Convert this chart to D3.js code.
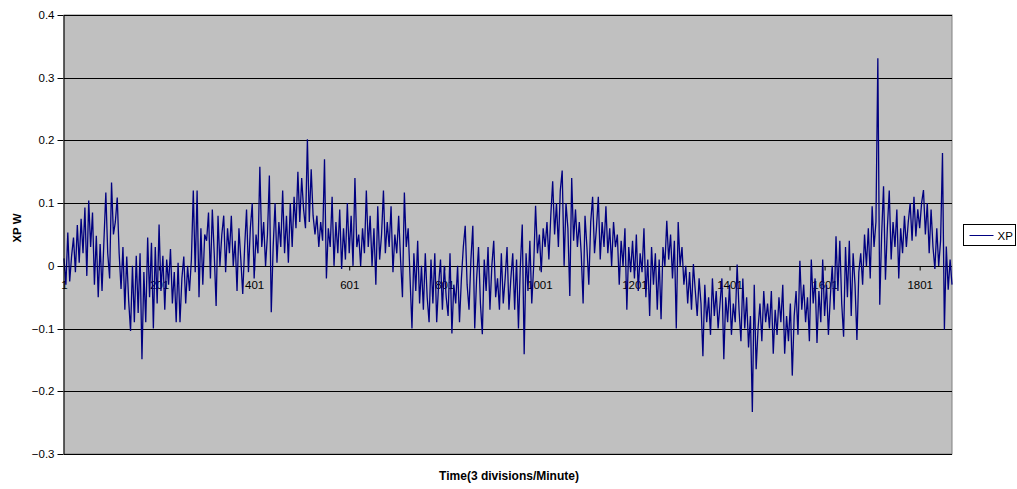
<!DOCTYPE html>
<html>
<head>
<meta charset="utf-8">
<script src="https://cdn.jsdelivr.net/npm/d3@7"></script>
<style>
  html, body { margin: 0; padding: 0; background: #ffffff; }
  svg { display: block; font-family: "Liberation Sans", Arial, sans-serif; }
</style>
</head>
<body>
<svg id="chart" width="1017" height="489"></svg>
<script>
// ---- data (one sample every 4 time divisions) ----
const seriesName = "XP";
const firstIndex = 1;
const sampleStep = 4;
const xpValues = [
  0.012, -0.03, 0.053, -0.025, 0.016, 0.045, -0.01, 0.065, 0.005, 0.075,
  0.02, 0.093, -0.016, 0.104, 0.03, 0.085, -0.03, 0.048, -0.05, 0.035,
  -0.04, 0.04, 0.117, 0.02, -0.02, 0.133, 0.05, 0.07, 0.109, 0.02,
  -0.037, 0.03, -0.07, 0.015, -0.055, -0.104, 0.0, -0.09, 0.016, -0.075,
  0.02, -0.149, -0.01, -0.09, 0.045, -0.05, 0.037, -0.1, 0.03, -0.06,
  0.066, -0.04, 0.016, -0.07, 0.01, -0.03, 0.027, -0.06, -0.01, -0.09,
  0.005, -0.09, -0.02, 0.015, -0.06, 0.0, -0.04, 0.01, 0.12, -0.01,
  0.12, -0.05, 0.06, -0.03, 0.05, 0.04, 0.085, -0.02, 0.09, 0.02,
  -0.064, 0.08, 0.0, 0.05, 0.08, -0.01, 0.06, 0.02, 0.08, 0.0,
  0.04, -0.04, 0.06, 0.01, -0.045, 0.03, 0.09, -0.01, 0.06, 0.1,
  -0.02, 0.05, 0.02, 0.158, 0.03, 0.07, 0.0, 0.05, 0.144, -0.074,
  0.03, 0.1, 0.005, 0.07, 0.03, 0.12, 0.02, 0.08, 0.005, 0.1,
  0.03, 0.11, 0.06, 0.15, 0.07, 0.14, 0.09, 0.06, 0.202, 0.07,
  0.154, 0.08, 0.05, 0.08, 0.03, 0.07, 0.04, 0.17, -0.02, 0.06,
  0.03, 0.11, 0.0, 0.07, 0.02, 0.09, -0.005, 0.06, 0.01, 0.1,
  0.02, 0.08, 0.0, 0.14, 0.03, 0.05, 0.0, 0.06, 0.02, 0.12,
  0.03, 0.08, 0.0, 0.06, -0.03, 0.095, 0.01, 0.05, 0.12, 0.02,
  0.07, 0.03, 0.095, -0.01, 0.05, 0.02, 0.08, 0.01, -0.05, 0.117,
  0.03, 0.06, -0.02, -0.1, 0.02, -0.04, 0.04, -0.06, 0.0, -0.07,
  0.02, -0.05, -0.09, 0.01, -0.06, 0.02, -0.09, -0.03, 0.01, -0.07,
  0.0, -0.05, -0.08, 0.02, -0.108, -0.03, -0.06, 0.0, -0.09, -0.02,
  0.03, 0.064, -0.03, -0.07, 0.01, 0.064, -0.1, -0.02, 0.03, -0.06,
  -0.109, 0.01, -0.04, 0.03, -0.07, 0.0, 0.04, -0.05, -0.02, -0.07,
  0.02, -0.06, -0.02, 0.03, -0.07, -0.02, 0.02, -0.07, 0.01, -0.1,
  0.0, 0.066, -0.141, 0.02, -0.04, 0.04, -0.06, 0.0, 0.096, 0.02,
  0.05, -0.01, 0.06, 0.03, 0.07, 0.01, 0.08, 0.135, 0.05, 0.1,
  0.03, 0.12, 0.152, 0.0, 0.1, 0.06, -0.048, 0.14, 0.04, 0.09,
  0.03, 0.07, 0.02, -0.06, 0.08, 0.03, -0.03, 0.07, 0.11, 0.02,
  0.06, 0.11, 0.01, 0.07, 0.03, 0.095, 0.02, 0.06, 0.0, 0.07,
  0.03, 0.05, -0.03, 0.04, 0.0, 0.06, -0.07, 0.03, -0.01, 0.04,
  -0.02, 0.05, -0.04, 0.02, -0.01, 0.06, -0.05, 0.01, -0.08, 0.03,
  -0.03, 0.02, -0.07, 0.01, -0.085, 0.03, 0.0, 0.072, 0.01, 0.05,
  -0.02, 0.04, -0.1, 0.07, 0.0, 0.03, -0.03, 0.0, -0.06, -0.01,
  -0.07, 0.003, -0.04, -0.08, -0.02, -0.06, -0.144, -0.03, -0.09, -0.05,
  -0.11, -0.02, -0.08, -0.04, -0.1, -0.06, -0.02, -0.149, -0.05, -0.09,
  -0.03, -0.11, -0.06, -0.09, 0.002, -0.07, -0.12, -0.02, -0.1, -0.05,
  -0.13, -0.08, -0.233, -0.03, -0.165, -0.1, -0.06, -0.12, -0.04, -0.09,
  -0.06, -0.1, -0.04, -0.14, -0.07, -0.11, -0.05, -0.09, -0.03, -0.14,
  -0.08, -0.12, -0.06, -0.175, -0.08, -0.04, -0.11, 0.008, -0.07, -0.03,
  -0.09, -0.05, -0.12, 0.01, -0.06, -0.02, -0.123, -0.04, -0.09, 0.01,
  -0.08, -0.03, -0.11, -0.05, 0.0, -0.07, 0.047, -0.04, 0.04, -0.06,
  -0.113, 0.03, -0.05, 0.04, -0.08, 0.02, -0.03, -0.118, -0.01, 0.02,
  -0.03, 0.05, 0.0, 0.06, -0.02, 0.095, 0.03, 0.07, 0.331, -0.062,
  0.05, 0.127, -0.022, 0.06, 0.12, 0.01, 0.07, 0.03, 0.09, -0.02,
  0.06, 0.02, 0.08, 0.03, 0.07, 0.1, 0.04, 0.11, 0.047, 0.09,
  0.06, 0.1, 0.121, 0.05, 0.1, 0.02, 0.09, 0.03, -0.005, 0.06,
  0.0, 0.04, 0.18, -0.102, 0.031, -0.038, 0.01, -0.03
];
const xTickLabels = [1, 201, 401, 601, 801, 1001, 1201, 1401, 1601, 1801];
const yTickValues = [-0.3, -0.2, -0.1, 0, 0.1, 0.2, 0.3, 0.4];
const xTitle = "Time(3 divisions/Minute)";
const yTitle = "XP W";

// ---- layout ----
const plot = { left: 64, right: 952, top: 15, bottom: 454 };
const lineColor = "#000080";

const points = xpValues.map((v, i) => ({ t: firstIndex + i * sampleStep, v }));
const lastIndex = points[points.length - 1].t;

const x = d3.scaleLinear().domain([firstIndex, lastIndex]).range([plot.left, plot.right]);
const y = d3.scaleLinear().domain([-0.3, 0.4]).range([plot.bottom, plot.top]);
const crisp = v => Math.round(v) + 0.5;

const svg = d3.select("#chart");

// plot area
svg.append("rect")
  .attr("x", plot.left).attr("y", plot.top)
  .attr("width", plot.right - plot.left).attr("height", plot.bottom - plot.top)
  .attr("fill", "#c0c0c0")
  .attr("stroke", "#808080").attr("stroke-width", 1);

// gridlines
svg.append("g").selectAll("line").data(yTickValues).join("line")
  .attr("x1", plot.left).attr("x2", plot.right)
  .attr("y1", d => crisp(y(d))).attr("y2", d => crisp(y(d)))
  .attr("stroke", "#000").attr("stroke-width", 1);

// category axis at zero (labels drawn under the data line, as in the original)
const xAxis = d3.axisBottom(x).tickValues(xTickLabels).tickFormat(d3.format("d"))
  .tickSize(4).tickPadding(10);
const gx = svg.append("g").attr("transform", `translate(0,${crisp(y(0))})`).call(xAxis);
gx.select(".domain").remove();
gx.selectAll(".tick line").attr("stroke", "#000");
gx.selectAll(".tick text").attr("fill", "#000")
  .style("font-size", "11.5px").style("font-family", "'Liberation Sans', Arial, sans-serif");

// data line
const line = d3.line().x(d => x(d.t)).y(d => y(d.v));
svg.append("path").datum(points)
  .attr("d", line)
  .attr("fill", "none")
  .attr("stroke", lineColor)
  .attr("stroke-width", 1.3)
  .attr("stroke-linejoin", "miter");

// value axis
const yAxis = d3.axisLeft(y).tickValues(yTickValues)
  .tickFormat(d => (Math.abs(d) < 1e-9 ? "0" : d3.format(".1f")(d)))
  .tickSize(6).tickPadding(3).tickSizeOuter(0);
const gy = svg.append("g").attr("transform", `translate(${plot.left - 0.5},0)`).call(yAxis);
gy.selectAll(".tick").attr("transform", d => `translate(0,${crisp(y(d))})`);
gy.select(".domain").attr("stroke", "#000");
gy.selectAll(".tick line").attr("stroke", "#000");
gy.selectAll(".tick text").attr("fill", "#000")
  .style("font-size", "11.5px").style("font-family", "'Liberation Sans', Arial, sans-serif");

// titles
svg.append("text")
  .attr("x", 509).attr("y", 480)
  .attr("text-anchor", "middle")
  .style("font-size", "12px").style("font-weight", "bold")
  .text(xTitle);
svg.append("text")
  .attr("transform", "translate(21,228) rotate(-90)")
  .attr("text-anchor", "middle")
  .style("font-size", "11.5px").style("font-weight", "bold")
  .text(yTitle);

// legend
const lg = svg.append("g").attr("transform", "translate(963.5,224.5)");
lg.append("rect").attr("width", 52).attr("height", 21)
  .attr("fill", "#fff").attr("stroke", "#000").attr("stroke-width", 1);
lg.append("line").attr("x1", 6).attr("x2", 30).attr("y1", 11).attr("y2", 11)
  .attr("stroke", lineColor).attr("stroke-width", 1);
lg.append("text").attr("x", 34).attr("y", 15.5)
  .style("font-size", "11.5px").text(seriesName);
</script>
</body>
</html>
